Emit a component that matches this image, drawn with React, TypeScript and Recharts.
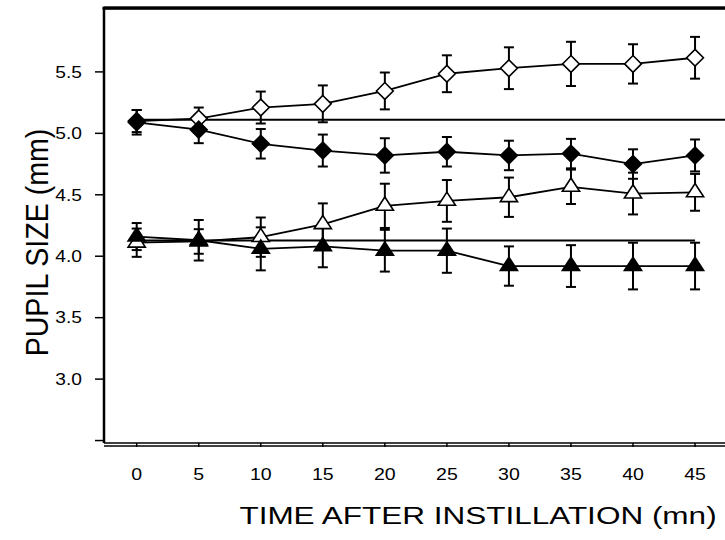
import React from 'react';
import { LineChart, Line, XAxis, YAxis, ErrorBar, ReferenceLine, Label } from 'recharts';

const times = [0, 5, 10, 15, 20, 25, 30, 35, 40, 45];
const openDiamond = [5.10, 5.12, 5.21, 5.24, 5.345, 5.485, 5.53, 5.565, 5.565, 5.615];
const openDiamondErr = [0.09, 0.09, 0.13, 0.15, 0.15, 0.15, 0.17, 0.18, 0.16, 0.17];
const filledDiamond = [5.09, 5.03, 4.915, 4.86, 4.82, 4.85, 4.82, 4.835, 4.75, 4.82];
const filledDiamondErr = [0.1, 0.11, 0.12, 0.13, 0.14, 0.12, 0.12, 0.12, 0.12, 0.13];
const openTriangle = [4.11, 4.12, 4.155, 4.26, 4.41, 4.45, 4.48, 4.565, 4.51, 4.52];
const openTriangleErr = [0.115, 0.1, 0.16, 0.17, 0.18, 0.17, 0.16, 0.14, 0.17, 0.15];
const filledTriangle = [4.16, 4.13, 4.06, 4.08, 4.045, 4.045, 3.92, 3.92, 3.92, 3.92];
const filledTriangleErr = [0.11, 0.165, 0.175, 0.17, 0.17, 0.18, 0.16, 0.17, 0.19, 0.19];
const yTicks = [2.5, 3.0, 3.5, 4.0, 4.5, 5.0, 5.5];
const baselineHigh = 5.11;
const baselineLow = 4.127;

const data = times.map((t, i) => ({
  x: t,
  od: openDiamond[i], odE: openDiamondErr[i],
  fd: filledDiamond[i], fdE: filledDiamondErr[i],
  ot: openTriangle[i], otE: openTriangleErr[i],
  ft: filledTriangle[i], ftE: filledTriangleErr[i],
}));

const FONT = 'Arial, "Liberation Sans", Helvetica, sans-serif';
const X_DOMAIN: [number, number] = [-2.635, 47.6];
const Y_DOMAIN: [number, number] = [2.48, 6.02];

const diamondDot = (fill: string) => (p: any) => {
  const { cx, cy, index } = p;
  if (cx == null || cy == null) return <g key={`dd${fill}${index}`} />;
  const r = 8.4;
  return (
    <path key={`dd${fill}${index}`}
      d={`M${cx},${cy - r}L${cx + r},${cy}L${cx},${cy + r}L${cx - r},${cy}Z`}
      fill={fill} stroke="#000" strokeWidth={1.6} />
  );
};

const triangleDot = (fill: string) => (p: any) => {
  const { cx, cy, index } = p;
  if (cx == null || cy == null) return <g key={`td${fill}${index}`} />;
  const hw = 8.6;
  return (
    <path key={`td${fill}${index}`}
      d={`M${cx},${cy - 8.8}L${cx + hw},${cy + 4.4}L${cx - hw},${cy + 4.4}Z`}
      fill={fill} stroke="#000" strokeWidth={1.6} />
  );
};

const XTick = (props: any) => {
  const { x, y, payload } = props;
  return (
    <g transform={`translate(${x},${y})`}>
      <text x={0} y={0} dy={31} textAnchor="middle" fontSize={17} fontFamily={FONT} fill="#000"
        transform="scale(1.15,1)">{payload.value}</text>
    </g>
  );
};

const TopTick = (props: any) => {
  const { x } = props;
  return <rect x={x - 0.75} y={3} width={1.5} height={6} fill="#000" />;
};

const YTick = (props: any) => {
  const { y, payload } = props;
  const v = payload.value as number;
  return (
    <g transform={`translate(82,${y})`}>
      <text x={0} y={0} dy="0.36em" textAnchor="end" fontSize={16} fontFamily={FONT} fill="#000"
        transform="scale(1.2,1)">{v === 2.5 ? '' : v.toFixed(1)}</text>
    </g>
  );
};

const XTitle = () => (
  <g>
    <rect x={102.5} y={6.6} width={660} height={3} fill="#000" />
    <text transform="translate(478,524.3) scale(1.37,1)" x={0} y={0} textAnchor="middle"
      fontSize={23} fontFamily={FONT} fill="#000">TIME AFTER INSTILLATION (mn)</text>
  </g>
);

const YTitle = () => (
  <text transform="translate(48.3,242.5) rotate(-90) scale(1,1.12)" x={0} y={0} textAnchor="middle"
    fontSize={28.6} fontFamily={FONT} fill="#000">PUPIL SIZE (mm)</text>
);

export default function App() {
  return (
    <div style={{ position: 'absolute', left: 0, top: 0, width: 725, height: 540, overflow: 'hidden', background: '#fff' }}>
      <LineChart width={760} height={540} data={data} margin={{ top: 8, right: 32.7, bottom: 0, left: 0 }}
        style={{ overflow: 'visible' }}>
        <XAxis xAxisId={0} orientation="bottom" type="number" dataKey="x" domain={X_DOMAIN} ticks={times}
          allowDataOverflow tick={<XTick />} tickSize={4} height={3}
          axisLine={{ stroke: '#000', strokeWidth: 1.6 }} tickLine={{ stroke: '#000', strokeWidth: 1.5 }} />
        <XAxis xAxisId="b2" orientation="bottom" type="number" dataKey="x" domain={X_DOMAIN}
          allowDataOverflow tick={false} tickLine={false} height={94}
          axisLine={{ stroke: '#000', strokeWidth: 1.6 }}>
          <Label content={XTitle} />
        </XAxis>
        <XAxis xAxisId="top" orientation="top" type="number" dataKey="x" domain={X_DOMAIN} ticks={times}
          allowDataOverflow tick={<TopTick />} tickLine={false} tickSize={0} height={0}
          axisLine={{ stroke: '#000', strokeWidth: 3 }} />
        <YAxis type="number" domain={Y_DOMAIN} ticks={yTicks} allowDataOverflow width={104}
          tickSize={9} tickMargin={0} tick={<YTick />}
          axisLine={{ stroke: '#000', strokeWidth: 2.5 }} tickLine={{ stroke: '#000', strokeWidth: 1.5 }}>
          <Label content={YTitle} />
        </YAxis>
        <ReferenceLine y={Y_DOMAIN[1]} ifOverflow="visible" stroke="#000" strokeWidth={3} />
        <ReferenceLine segment={[{ x: 0, y: baselineHigh }, { x: 47.6, y: baselineHigh }]} stroke="#000" strokeWidth={2} />
        <ReferenceLine segment={[{ x: 0, y: baselineLow }, { x: 45, y: baselineLow }]} stroke="#000" strokeWidth={2} />
        <Line dataKey="ot" stroke="#000" strokeWidth={1.8} isAnimationActive={false} dot={triangleDot('#fff')} activeDot={false}>
          <ErrorBar dataKey="otE" direction="y" width={5} stroke="#000" strokeWidth={2} />
        </Line>
        <Line dataKey="ft" stroke="#000" strokeWidth={1.8} isAnimationActive={false} dot={triangleDot('#000')} activeDot={false}>
          <ErrorBar dataKey="ftE" direction="y" width={5} stroke="#000" strokeWidth={2} />
        </Line>
        <Line dataKey="od" stroke="#000" strokeWidth={1.8} isAnimationActive={false} dot={diamondDot('#fff')} activeDot={false}>
          <ErrorBar dataKey="odE" direction="y" width={5} stroke="#000" strokeWidth={2} />
        </Line>
        <Line dataKey="fd" stroke="#000" strokeWidth={1.8} isAnimationActive={false} dot={diamondDot('#000')} activeDot={false}>
          <ErrorBar dataKey="fdE" direction="y" width={5} stroke="#000" strokeWidth={2} />
        </Line>
      </LineChart>
    </div>
  );
}
